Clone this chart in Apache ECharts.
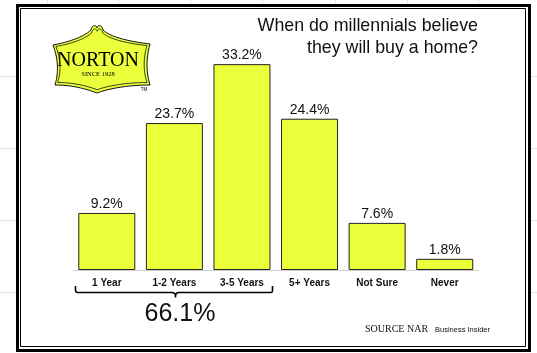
<!DOCTYPE html>
<html>
<head>
<meta charset="utf-8">
<script src="https://cdn.jsdelivr.net/npm/echarts@6/dist/echarts.min.js"></script>
<style>html,body{margin:0;padding:0;background:#fff}#c{width:537px;height:353px}</style>
</head>
<body>
<div id="c"></div>
<script>
const categories = ['1 Year', '1-2 Years', '3-5 Years', '5+ Years', 'Not Sure', 'Never'];
const values = [9.2, 23.7, 33.2, 24.4, 7.6, 1.8];
const titleLines = ['When do millennials believe', 'they will buy a home?'];
const bracketLabel = '66.1%';
const sourceText = 'SOURCE NAR';
const sourceSub = 'Business Insider';

const YEL = '#ebff3b';
const chart = echarts.init(document.getElementById('c'), null, {renderer: 'canvas'});

// sample a chain of cubic beziers into polygon points (logo outline)
function bez(start, segs, n) {
  const pts = [start];
  let p0 = start;
  segs.forEach(s => {
    const [c1, c2, p3] = s;
    for (let i = 1; i <= n; i++) {
      const t = i / n, u = 1 - t;
      pts.push([
        u*u*u*p0[0] + 3*u*u*t*c1[0] + 3*u*t*t*c2[0] + t*t*t*p3[0],
        u*u*u*p0[1] + 3*u*u*t*c1[1] + 3*u*t*t*c2[1] + t*t*t*p3[1]
      ]);
    }
    p0 = p3;
  });
  return pts;
}
const logoPts = bez([53, 45], [
  [[70, 42], [85, 36], [91, 30]],
  [[92, 25], [96, 24], [97, 28]],
  [[98, 24], [102, 25], [103, 30]],
  [[109, 36], [125, 41], [150, 44]],
  [[146, 58], [146, 72], [150, 85]],
  [[130, 85], [110, 88], [97, 93]],
  [[84, 88], [70, 85], [55, 85]],
  [[59, 72], [58, 58], [53, 45]]
], 12);
const innerPts = logoPts.map(p => [100 + (p[0] - 100) * 0.94, 60 + (p[1] - 60) * 0.9]);

const bracePts = bez([75.5, 286], [
  [[75.5, 288], [75.5, 290], [75.5, 290]],
  [[75.5, 292.5], [77, 292.5], [78, 292.5]],
  [[120, 292.5], [150, 292.5], [172, 292.5]],
  [[175.5, 292.5], [175.5, 295], [175.5, 297.5]],
  [[175.5, 295], [175.5, 292.5], [179, 292.5]],
  [[220, 292.5], [250, 292.5], [270, 292.5]],
  [[272, 292.5], [272.5, 292], [272.5, 290]],
  [[272.5, 289], [272.5, 287], [272.5, 286]]
], 6);

// faint spreadsheet gridlines visible outside the framed box
const bg = [];
[76, 148, 220, 292].forEach(y => {
  bg.push({type: 'line', z: 0, shape: {x1: 0, y1: y + 0.5, x2: 16, y2: y + 0.5}, style: {stroke: '#e4e4e4', lineWidth: 1}});
  bg.push({type: 'line', z: 0, shape: {x1: 531, y1: y + 0.5, x2: 537, y2: y + 0.5}, style: {stroke: '#e4e4e4', lineWidth: 1}});
});
[47, 118, 190, 262, 335, 407, 478].forEach(x => {
  bg.push({type: 'line', z: 0, shape: {x1: x + 0.5, y1: 0, x2: x + 0.5, y2: 4}, style: {stroke: '#e4e4e4', lineWidth: 1}});
});

chart.setOption({
  animation: false,
  backgroundColor: '#fff',
  grid: {left: 73, right: 58.5, top: 22, bottom: 83},
  xAxis: {
    type: 'category', data: categories,
    axisLine: {lineStyle: {color: '#d0d0d0', width: 1}},
    axisTick: {show: false},
    axisLabel: {color: '#111', fontFamily: 'Liberation Sans', fontWeight: 'bold', fontSize: 10, margin: 8}
  },
  yAxis: {type: 'value', min: 0, max: 40, show: false, splitLine: {show: false}},
  series: [{
    type: 'bar', data: values, barWidth: 57,
    itemStyle: {color: YEL, borderColor: '#222', borderWidth: 1},
    label: {show: true, position: 'top', distance: 2, formatter: p => p.value.toFixed(1) + '%', color: '#111', fontFamily: 'Liberation Sans', fontSize: 14}
  }],
  graphic: bg.concat([
    {type: 'rect', z: 2, shape: {x: 17.5, y: 5.5, width: 512, height: 345}, style: {fill: null, stroke: '#000', lineWidth: 3}},
    {type: 'rect', z: 2, shape: {x: 20.5, y: 8.5, width: 505, height: 338}, style: {fill: null, stroke: '#000', lineWidth: 1}},
    {type: 'polygon', z: 3, shape: {points: logoPts}, style: {fill: YEL, stroke: '#111', lineWidth: 1}},
    {type: 'polygon', z: 3, shape: {points: innerPts}, style: {fill: null, stroke: '#111', lineWidth: 0.8}},
    {type: 'text', z: 4, x: 98, y: 61, style: {text: 'NORTON', fontFamily: 'Liberation Serif', fontSize: 20, fill: '#000', align: 'center', verticalAlign: 'middle'}},
    {type: 'text', z: 4, x: 98, y: 74, style: {text: 'SINCE 1928', fontFamily: 'Liberation Serif', fontSize: 6.5, fill: '#000', align: 'center', verticalAlign: 'middle'}},
    {type: 'text', z: 4, x: 144, y: 90, style: {text: 'TM', fontFamily: 'Liberation Sans', fontSize: 4.5, fill: '#000', align: 'center', verticalAlign: 'middle'}},
    {type: 'text', z: 4, x: 478, y: 26, style: {text: titleLines[0], fontFamily: 'Liberation Sans', fontSize: 17.8, fill: '#111', align: 'right', verticalAlign: 'middle'}},
    {type: 'text', z: 4, x: 478, y: 48, style: {text: titleLines[1], fontFamily: 'Liberation Sans', fontSize: 17.8, fill: '#111', align: 'right', verticalAlign: 'middle'}},
    {type: 'polyline', z: 4, shape: {points: bracePts}, style: {fill: null, stroke: '#000', lineWidth: 1.6}},
    {type: 'text', z: 4, x: 180, y: 314, style: {text: bracketLabel, fontFamily: 'Liberation Sans', fontSize: 25, fill: '#111', align: 'center', verticalAlign: 'middle'}},
    {type: 'text', z: 4, x: 365, y: 329, style: {text: sourceText, fontFamily: 'Liberation Serif', fontSize: 10, fill: '#111', align: 'left', verticalAlign: 'middle'}},
    {type: 'text', z: 4, x: 435, y: 330, style: {text: sourceSub, fontFamily: 'Liberation Sans', fontSize: 7.5, fill: '#111', align: 'left', verticalAlign: 'middle'}}
  ])
});
</script>
</body>
</html>
